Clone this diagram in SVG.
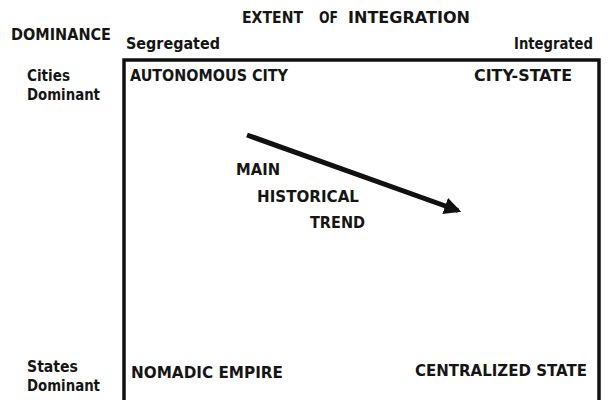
<svg xmlns="http://www.w3.org/2000/svg" width="608" height="400" viewBox="0 0 608 400">
<style>
text{font-family:"DejaVu Sans","Liberation Sans",sans-serif;font-weight:bold;font-size:16.5px;fill:#151515}
.frame{fill:none;stroke:#111;stroke-width:3.5}
.arrow{stroke:#111;stroke-width:5;fill:none}
</style>
<defs>
<marker id="ah" viewBox="0 0 10 10" refX="8" refY="5" markerWidth="3.4" markerHeight="3.4" orient="auto" markerUnits="strokeWidth">
<path d="M0,0 L10,5 L0,10 Z" fill="#111"/>
</marker>
</defs>
<g id="axes">
<text x="242" y="23" textLength="61" lengthAdjust="spacingAndGlyphs">EXTENT</text>
<text x="319" y="23" textLength="19" lengthAdjust="spacingAndGlyphs">OF</text>
<text x="348" y="23" textLength="122" lengthAdjust="spacingAndGlyphs">INTEGRATION</text>
<text x="11" y="40" textLength="100" lengthAdjust="spacingAndGlyphs">DOMINANCE</text>
<text x="126" y="49" textLength="94" lengthAdjust="spacingAndGlyphs">Segregated</text>
<text transform="translate(514,49) scale(1,1.15)" x="0" y="0" style="font-size:14.2px" textLength="79" lengthAdjust="spacingAndGlyphs">Integrated</text>
<text x="27" y="81" textLength="43" lengthAdjust="spacingAndGlyphs">Cities</text>
<text x="27" y="100" textLength="73" lengthAdjust="spacingAndGlyphs">Dominant</text>
<text x="27" y="372" textLength="51" lengthAdjust="spacingAndGlyphs">States</text>
<text x="27" y="391" textLength="73" lengthAdjust="spacingAndGlyphs">Dominant</text>
</g>
<rect id="frame" class="frame" x="124" y="60" width="475" height="360"/>
<g id="autonomous-city"><text x="130" y="81" textLength="158" lengthAdjust="spacingAndGlyphs">AUTONOMOUS CITY</text></g>
<g id="city-state"><text x="474" y="81" textLength="98" lengthAdjust="spacingAndGlyphs">CITY-STATE</text></g>
<g id="nomadic-empire"><text x="131" y="378" textLength="152" lengthAdjust="spacingAndGlyphs">NOMADIC EMPIRE</text></g>
<g id="centralized-state"><text x="415" y="376" textLength="172" lengthAdjust="spacingAndGlyphs">CENTRALIZED STATE</text></g>
<g id="trend-label">
<text x="236" y="175" textLength="44" lengthAdjust="spacingAndGlyphs">MAIN</text>
<text x="257" y="202" textLength="102" lengthAdjust="spacingAndGlyphs">HISTORICAL</text>
<text x="310" y="228" textLength="55" lengthAdjust="spacingAndGlyphs">TREND</text>
</g>
<g id="connectors">
<line class="arrow" x1="247" y1="135" x2="458" y2="210.5" marker-end="url(#ah)"/>
</g>
</svg>
